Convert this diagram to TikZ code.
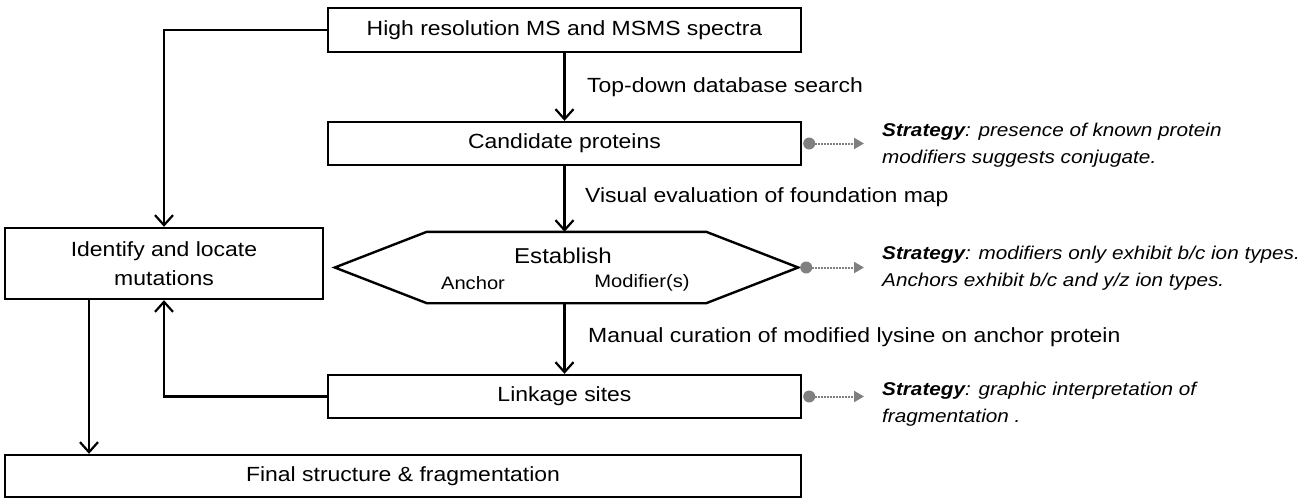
\documentclass[tikz,border=0pt]{standalone}
\usepackage{fontspec}
\setmainfont{Liberation Sans}[FakeStretch=1.12]
\usetikzlibrary{arrows.meta}
\begin{document}
\begin{tikzpicture}[x=1pt,y=-1pt,
  box/.style={draw,line width=2.4pt,inner sep=0pt,font=\fontsize{20.5}{29}\selectfont,align=center},
  lbl/.style={anchor=west,inner sep=0pt,font=\fontsize{20.5}{24}\selectfont},
  strat/.style={anchor=west,align=left,inner sep=0pt,font=\fontsize{18.5}{27}\selectfont\itshape},
  arr/.style={line width=2.5pt,-{Straight Barb[length=10pt,width=18pt,line width=2.2pt]}},
  dotnode/.style={circle,fill=gray,inner sep=0pt,minimum size=12pt},
  dotarr/.style={gray,line width=2pt,dash pattern=on 1.5pt off 1.5pt,-{Triangle[length=10pt,width=11pt]}},
  hexline/.style={draw,line width=2.4pt,line join=miter}]
\useasboundingbox (0,0) rectangle (1300,503);
\fill[white] (0,0) rectangle (1300,503);

% boxes
\node[box,minimum width=473pt,minimum height=44pt] (top) at (564.5,30) {High resolution MS and MSMS spectra};
\node[box,minimum width=473pt,minimum height=43pt] (cand) at (564.5,143.5) {Candidate proteins};
\node[inner sep=0pt,minimum width=463pt,minimum height=71pt] (hex) at (566.5,267.5) {};
\draw[hexline] (hex.west) -- ([xshift=92pt]hex.north west) -- ([xshift=-92pt]hex.north east)
  -- (hex.east) -- ([xshift=-92pt]hex.south east) -- ([xshift=92pt]hex.south west) -- cycle;
\node[inner sep=0pt,font=\fontsize{21.5}{24}\selectfont] (est) at (563,256) {Establish};
\node[inner sep=0pt,font=\fontsize{18}{22}\selectfont] (anc) at (473,283) {Anchor};
\node[inner sep=0pt,font=\fontsize{18}{22}\selectfont] (mod) at (642,283) {Modifier(s)};
\node[box,minimum width=473pt,minimum height=43pt] (link) at (564.5,396.5) {Linkage sites};
\node[box,minimum width=318pt,minimum height=71pt] (ident) at (164,263.5) {Identify and locate\\mutations};
\node[box,minimum width=796pt,minimum height=42pt] (final) at (403,476) {Final structure \& fragmentation};

% main arrows
\draw[arr] (top.south) -- (cand.north);
\draw[arr] (cand.south) -- (hex.north -| cand.south);
\draw[arr] (hex.south -| link.north) -- (link.north);
\draw[arr] (top.west) -| (ident.north);
\draw[arr] (link.west) -| (ident.south);
\draw[arr] ([xshift=-75pt]ident.south) -- ([xshift=-75pt]ident.south |- final.north);

% arrow labels
\node[lbl] (l1) at (587,87) {Top-down database search};
\node[lbl] (l2) at (585,197) {Visual evaluation of foundation map};
\node[lbl] (l3) at (588,337) {Manual curation of modified lysine on anchor protein};

% strategies
\node[strat] (s1) at (882,145) {{\bfseries Strategy}: presence of known protein\\modifiers suggests conjugate.};
\node[strat] (s2) at (882,268) {{\bfseries Strategy}: modifiers only exhibit b/c ion types.\\Anchors exhibit b/c and y/z ion types.};
\node[strat] (s3) at (882,404) {{\bfseries Strategy}: graphic interpretation of\\fragmentation .};

\node[dotnode] (d1) at ([xshift=7pt]cand.east) {};
\node[dotnode] (d2) at ([xshift=8pt]hex.east) {};
\node[dotnode] (d3) at ([xshift=7pt]link.east) {};
\coordinate (e1) at (864,0);
\draw[dotarr] (d1.east) -- (d1 -| e1);
\draw[dotarr] (d2.east) -- (d2 -| e1);
\draw[dotarr] (d3.east) -- (d3 -| e1);
\end{tikzpicture}
\end{document}
